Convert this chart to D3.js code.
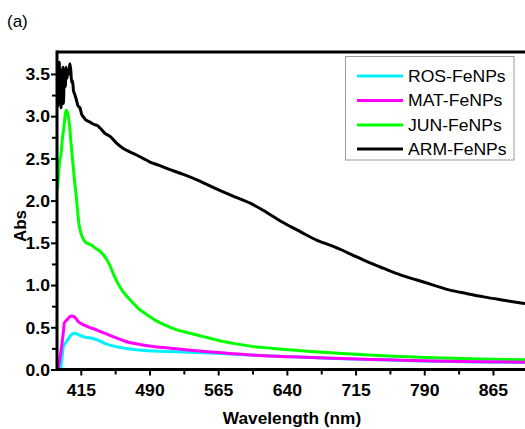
<!DOCTYPE html>
<html>
<head>
<meta charset="utf-8">
<script src="https://cdn.jsdelivr.net/npm/d3@7/dist/d3.min.js"></script>
<style>
  html, body { margin: 0; padding: 0; background: #fff; }
  svg { display: block; }
  text { font-family: "Liberation Sans", Arial, sans-serif; }
</style>
</head>
<body>
<svg id="chart" width="525" height="429"></svg>
<script>
// UV-Vis absorbance spectra of FeNPs (wavelength in nm, absorbance)
const seriesNames = ["ROS-FeNPs", "MAT-FeNPs", "JUN-FeNPs", "ARM-FeNPs"];
const seriesColors = ["#00f0ff", "#ff00ff", "#00ff00", "#000000"];

const rosWave = [393, 394.5, 396, 398, 400, 403, 405, 408, 411, 416, 421, 427, 434, 441, 450, 460, 475, 496, 532, 569, 605, 645, 700, 750, 800, 850, 900];
const rosAbs  = [0.0, 0.14, 0.27, 0.31, 0.34, 0.39, 0.415, 0.43, 0.42, 0.395, 0.38, 0.37, 0.345, 0.31, 0.28, 0.257, 0.235, 0.218, 0.205, 0.19, 0.17, 0.15, 0.128, 0.112, 0.098, 0.09, 0.082];

const matWave = [390, 392, 394, 396, 397, 399, 401, 403, 405, 407, 410, 412, 416, 423, 432, 441, 450, 460, 468, 478, 496, 514, 532, 550, 569, 587, 605, 645, 700, 750, 800, 850, 900];
const matAbs  = [0.0, 0.12, 0.27, 0.45, 0.55, 0.58, 0.6, 0.625, 0.635, 0.63, 0.6, 0.57, 0.54, 0.505, 0.47, 0.43, 0.39, 0.348, 0.32, 0.3, 0.27, 0.25, 0.23, 0.213, 0.198, 0.183, 0.17, 0.15, 0.13, 0.115, 0.1, 0.093, 0.085];

const junWave = [389, 390, 391, 392, 393, 394, 395, 396, 397, 398, 399, 400, 401, 402, 403, 404, 405, 406, 407, 408, 410, 412, 413, 415, 417, 420, 423, 427, 432, 437, 441, 446, 451, 456, 460, 465, 471, 478, 485, 496, 507, 520, 532, 545, 558, 569, 587, 605, 625, 645, 670, 700, 750, 800, 850, 900];
const junAbs  = [2.12, 2.2, 2.35, 2.48, 2.52, 2.62, 2.75, 2.82, 2.92, 3.02, 3.07, 3.06, 3.02, 2.95, 2.86, 2.72, 2.6, 2.48, 2.37, 2.25, 2.05, 1.82, 1.72, 1.62, 1.56, 1.51, 1.49, 1.47, 1.43, 1.39, 1.34, 1.25, 1.12, 1.01, 0.94, 0.87, 0.8, 0.72, 0.665, 0.585, 0.526, 0.47, 0.435, 0.4, 0.365, 0.335, 0.3, 0.27, 0.25, 0.23, 0.21, 0.19, 0.16, 0.14, 0.125, 0.115];

const armWave = [389.5, 390, 390.5, 391, 391.5, 392, 393, 393.5, 394, 395, 395.5, 396, 397, 398, 399, 400, 401, 402, 403, 404, 405, 406, 407, 408, 410, 412, 414, 416, 418, 420, 423, 425, 428, 430, 433, 436, 441, 447, 454, 461, 468, 476, 483, 490, 500, 514, 527, 543, 563, 580, 600, 618, 636, 655, 673, 690, 709, 727, 745, 764, 782, 800, 818, 836, 855, 877, 900];
const armAbs  = [3.3, 3.12, 3.6, 3.15, 3.64, 3.2, 3.55, 3.1, 3.5, 3.3, 3.58, 3.15, 3.52, 3.35, 3.58, 3.45, 3.55, 3.5, 3.62, 3.55, 3.4, 3.42, 3.3, 3.27, 3.2, 3.12, 3.1, 3.02, 2.99, 2.96, 2.94, 2.93, 2.91, 2.9, 2.89, 2.86, 2.8, 2.76, 2.68, 2.62, 2.58, 2.54, 2.5, 2.46, 2.42, 2.36, 2.31, 2.24, 2.14, 2.06, 1.97, 1.86, 1.74, 1.63, 1.53, 1.46, 1.37, 1.28, 1.2, 1.12, 1.06, 1.0, 0.94, 0.9, 0.86, 0.82, 0.78];

const xMajorTicks = [415, 490, 565, 640, 715, 790, 865];
const xMinorTicks = [452.5, 527.5, 602.5, 677.5, 752.5, 827.5];
const yMajorTicks = [0.0, 0.5, 1.0, 1.5, 2.0, 2.5, 3.0, 3.5];
const yMinorTicks = [0.25, 0.75, 1.25, 1.75, 2.25, 2.75, 3.25];
const xDomain = [389, 900];
const yDomain = [0, 3.76];

const svg = d3.select("#chart");
const plot = { left: 57, right: 525, top: 52, bottom: 369.5 };

const x = d3.scaleLinear().domain(xDomain).range([plot.left, plot.right]);
const y = d3.scaleLinear().domain(yDomain).range([plot.bottom, plot.top]);

svg.append("defs").append("clipPath").attr("id", "plotClip")
  .append("rect")
  .attr("x", plot.left).attr("y", plot.top)
  .attr("width", plot.right - plot.left).attr("height", plot.bottom - plot.top);

const series = [
  { wave: rosWave, abs: rosAbs },
  { wave: matWave, abs: matAbs },
  { wave: junWave, abs: junAbs },
  { wave: armWave, abs: armAbs }
];

const line = d3.line()
  .x(d => x(d[0]))
  .y(d => y(d[1]))
  .curve(d3.curveMonotoneX);

// draw order: black, green, cyan, magenta on top
const drawOrder = [3, 2, 0, 1];
const gLines = svg.append("g").attr("clip-path", "url(#plotClip)");
drawOrder.forEach(i => {
  const s = series[i];
  gLines.append("path")
    .datum(s.wave.map((w, k) => [w, s.abs[k]]))
    .attr("fill", "none")
    .attr("stroke", seriesColors[i])
    .attr("stroke-width", 3)
    .attr("stroke-linejoin", "round")
    .attr("d", line);
});

// horizontally widened bold tick labels
const stretch = 1.1;

// x axis
const xAxisG = svg.append("g").attr("transform", `translate(0,${plot.bottom})`);
xAxisG.call(d3.axisBottom(x).tickValues(xMajorTicks).tickSize(6).tickSizeOuter(0).tickFormat(d3.format("d")));
xAxisG.select(".domain").remove();
xAxisG.selectAll(".tick line").attr("stroke", "#000").attr("stroke-width", 2);
xAxisG.selectAll(".tick text")
  .attr("y", 0).attr("dy", 0)
  .attr("font-size", 16).attr("font-weight", "bold").attr("fill", "#000")
  .attr("transform", `translate(0,26) scale(${stretch},1)`);
const xMinorG = svg.append("g").attr("transform", `translate(0,${plot.bottom})`);
xMinorG.call(d3.axisBottom(x).tickValues(xMinorTicks).tickSize(5).tickFormat(""));
xMinorG.select(".domain").remove();
xMinorG.selectAll(".tick line").attr("stroke", "#000").attr("stroke-width", 2);

// y axis
const yAxisG = svg.append("g").attr("transform", `translate(${plot.left},0)`);
yAxisG.call(d3.axisLeft(y).tickValues(yMajorTicks).tickSize(6).tickFormat(d3.format(".1f")));
yAxisG.select(".domain").remove();
yAxisG.selectAll(".tick line").attr("stroke", "#000").attr("stroke-width", 2);
yAxisG.selectAll(".tick text")
  .attr("x", 0).attr("dy", "0.36em")
  .attr("font-size", 16).attr("font-weight", "bold").attr("fill", "#000")
  .attr("transform", `translate(-7,0) scale(${stretch},1)`);
const yMinorG = svg.append("g").attr("transform", `translate(${plot.left},0)`);
yMinorG.call(d3.axisLeft(y).tickValues(yMinorTicks).tickSize(5).tickFormat(""));
yMinorG.select(".domain").remove();
yMinorG.selectAll(".tick line").attr("stroke", "#000").attr("stroke-width", 2);

// frame lines: left, bottom, top
svg.append("line").attr("x1", plot.left).attr("x2", plot.left)
  .attr("y1", plot.top - 1.5).attr("y2", plot.bottom + 1.5)
  .attr("stroke", "#000").attr("stroke-width", 3);
svg.append("line").attr("x1", plot.left).attr("x2", plot.right + 5)
  .attr("y1", plot.bottom).attr("y2", plot.bottom)
  .attr("stroke", "#000").attr("stroke-width", 3);
svg.append("line").attr("x1", plot.left).attr("x2", plot.right + 5)
  .attr("y1", plot.top).attr("y2", plot.top)
  .attr("stroke", "#000").attr("stroke-width", 3);

// axis titles
svg.append("text")
  .attr("transform", `translate(292,424) scale(${stretch},1)`)
  .attr("text-anchor", "middle")
  .attr("font-size", 15.7).attr("font-weight", "bold")
  .text("Wavelength (nm)");
svg.append("text")
  .attr("transform", "translate(26,226) rotate(-90)")
  .attr("text-anchor", "middle")
  .attr("font-size", 17).attr("font-weight", "bold")
  .text("Abs");

// panel label
svg.append("text")
  .attr("x", 7).attr("y", 27)
  .attr("font-family", "DejaVu Sans, sans-serif")
  .attr("font-size", 17)
  .text("(a)");

// legend
const legend = svg.append("g");
legend.append("rect")
  .attr("x", 345.5).attr("y", 56.5).attr("width", 168.5).attr("height", 103.5)
  .attr("fill", "#fff").attr("stroke", "#999").attr("stroke-width", 1);
const rowY = [76, 100.5, 125, 149];
seriesNames.forEach((name, i) => {
  legend.append("line")
    .attr("x1", 357).attr("x2", 403)
    .attr("y1", rowY[i]).attr("y2", rowY[i])
    .attr("stroke", seriesColors[i]).attr("stroke-width", 3);
  legend.append("text")
    .attr("transform", `translate(408,${rowY[i] + 5.8}) scale(${stretch},1)`)
    .attr("font-size", 16)
    .text(name);
});
</script>
</body>
</html>
